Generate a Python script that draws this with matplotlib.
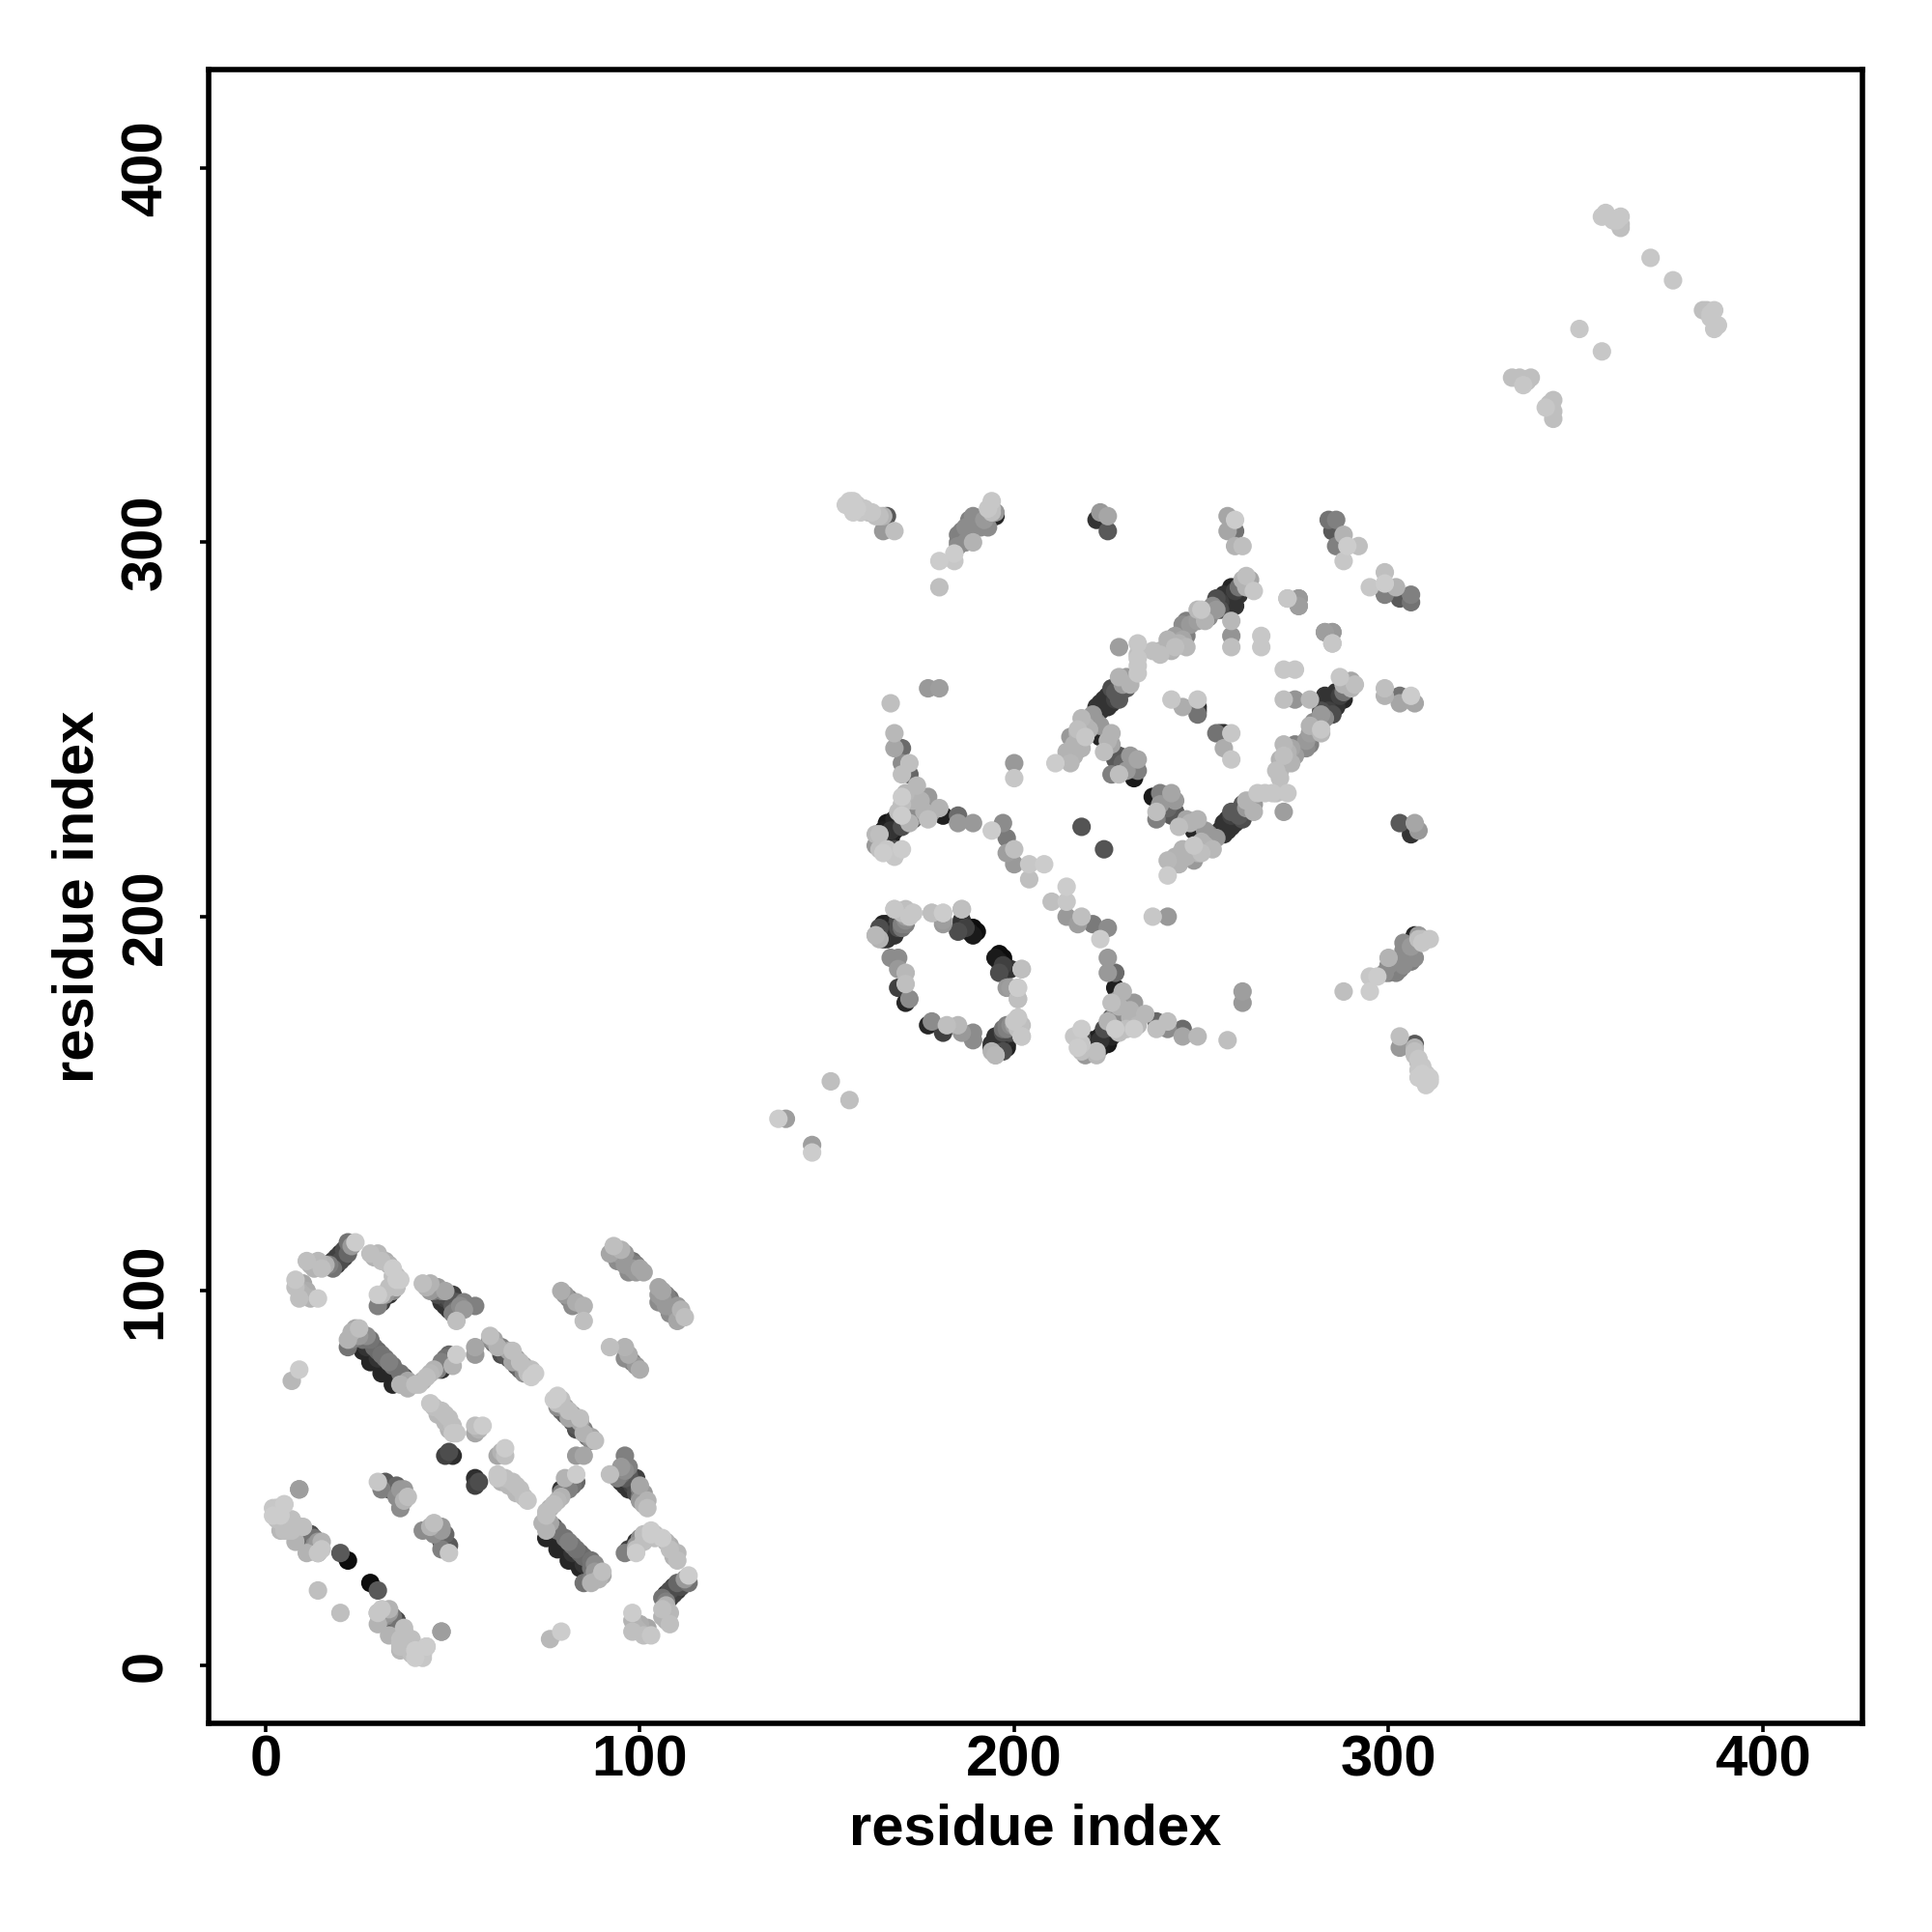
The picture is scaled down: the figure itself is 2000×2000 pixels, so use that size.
import numpy as np
import matplotlib
matplotlib.use("Agg")
import matplotlib.pyplot as plt

plt.rcParams['font.family'] = ['Liberation Sans', 'DejaVu Sans']

# Contacts (i < j); the map is symmetric so each is also shown at (j, i). Shade: 0 black, 1 white.
a_i = [14, 11, 9, 8, 8, 11, 14, 16, 18, 18, 20, 21, 22, 24, 12, 13, 17, 19, 19, 20, 21, 22, 23, 15, 10, 9, 10, 12]
a_j = [98, 100, 98, 101, 103, 108, 108, 107, 106, 108, 110, 111, 113, 113, 107, 106, 107, 107, 109, 108, 109, 110, 112, 106, 102, 100, 99, 98]
a_g = [.8, .68, .75, .75, .78, .75, .72, .7, .45, .25, .2, .3, .45, .8, .7, .7, .5, .2, .25, .3, .25, .4, .6, .75, .65, .7, .7, .7]

b_i = [28, 30, 32, 34, 36, 34, 33, 31, 30, 30, 29, 31, 33, 35, 35, 33, 32, 31, 35, 34]
b_j = [110, 110, 108, 106, 103, 100, 99, 97, 96, 99, 109, 108, 107, 103, 101, 101, 99, 99, 104, 104]
b_g = [.75, .72, .68, .8, .8, .55, .2, .25, .5, .8, .7, .75, .7, .8, .75, .75, .6, .75, .75, .75]

c_i = [42, 44, 46, 48, 50, 51, 53, 56, 51, 47, 49, 43, 45, 47, 48, 49, 50, 51, 52, 46, 44, 50, 53, 48]
c_j = [102, 102, 101, 100, 99, 97, 97, 96, 92, 97, 95, 101, 100, 100, 98, 98, 96, 95, 96, 99, 100, 94, 95, 96]
c_g = [.75, .7, .6, .65, .25, .35, .5, .5, .75, .2, .2, .7, .45, .5, .25, .3, .35, .45, .55, .3, .6, .5, .6, .2]

d_i = [79, 81, 83, 85, 85, 80, 82]
d_j = [100, 98, 97, 96, 92, 99, 96]
d_g = [.68, .5, .68, .7, .75, .6, .55]

e_i = [93, 92, 94, 96, 98, 100, 97, 93, 95, 97, 99, 94, 96, 98, 99, 95, 101]
e_j = [112, 110, 110, 110, 108, 106, 105, 110, 109, 108, 107, 108, 107, 106, 105, 111, 105]
e_g = [.75, .65, .6, .6, .45, .65, .55, .5, .55, .5, .5, .55, .6, .6, .6, .7, .65]

g_i = [22, 24, 26, 28, 29, 31, 33, 36, 38, 40, 26, 28, 31, 34, 38, 23, 25, 27, 27, 29, 30, 30, 32, 32, 34, 34, 35, 37, 37, 39, 22, 23, 25, 36]
g_j = [85, 90, 87, 87, 85, 83, 81, 78, 76, 75, 84, 81, 78, 75, 74, 87, 88, 85, 88, 83, 84, 82, 80, 82, 79, 80, 77, 77, 76, 75, 87, 89, 90, 75]
g_g = [.45, .65, .45, .45, .42, .45, .5, .45, .65, .75, .15, .15, .15, .15, .7, .5, .6, .2, .55, .15, .4, .2, .15, .45, .15, .45, .15, .3, .2, .6, .7, .7, .75, .7]

h_i = [43, 45, 47, 47, 49, 51, 7, 9, 44, 46, 48, 50, 41, 42]
h_j = [77, 79, 79, 81, 83, 83, 76, 79, 78, 79, 82, 80, 75, 76]
h_g = [.75, .7, .2, .5, .4, .8, .72, .8, .72, .5, .45, .7, .75, .7]

k_i = [56, 56, 60, 61, 62, 64, 66, 68, 70, 71, 66, 68, 72, 61, 63, 63, 65, 67, 69, 70, 65, 67, 71, 69, 60]
k_j = [85, 83, 88, 86, 85, 83, 81, 79, 78, 77, 84, 81, 78, 87, 85, 83, 82, 80, 80, 79, 84, 82, 79, 78, 87]
k_g = [.65, .6, .75, .4, .7, .35, .65, .4, .75, .8, .75, .75, .8, .65, .5, .3, .35, .35, .65, .7, .65, .65, .75, .55, .55]

m_i = [44, 47, 49, 50, 51, 56, 58, 56, 48, 50, 45, 46, 48, 50, 48, 49, 57, 49]
m_j = [70, 68, 66, 62, 62, 64, 64, 62, 56, 56, 69, 67, 67, 64, 65, 63, 63, 57]
m_g = [.78, .75, .75, .78, .78, .75, .8, .65, .25, .18, .75, .72, .75, .75, .72, .7, .7, .3]

n_i = [9, 3, 5, 4, 6, 9, 12, 9, 11, 14, 15, 14, 20, 22, 14, 4, 5, 7, 8, 10, 11, 11, 13, 13, 12, 15]
n_j = [47, 42, 43, 36, 39, 37, 35, 34, 32, 33, 31, 30, 30, 28, 20, 40, 38, 38, 36, 36, 35, 33, 34, 32, 33, 33]
n_g = [.62, .78, .8, .72, .72, .7, .3, .2, .2, .6, .78, .65, .35, .05, .75, .75, .72, .68, .6, .45, .3, .15, .45, .55, .25, .7]

o_i = [14, 14, 12, 11, 9, 10, 7, 5, 3, 3, 5, 9, 13, 2, 4, 2, 3, 6, 7, 8, 11]
o_j = [30, 32, 35, 32, 34, 37, 39, 36, 39, 42, 43, 47, 31, 40, 40, 42, 40, 36, 36, 33, 30]
o_g = [.78, .6, .3, .2, .2, .75, .75, .75, .75, .78, .8, .6, .6, .8, .8, .78, .75, .75, .75, .7, .7]

p_i = [30, 32, 34, 36, 38, 36, 31, 33, 35, 37, 37, 35]
p_j = [49, 49, 47, 47, 45, 42, 47, 47, 45, 44, 47, 48]
p_g = [.78, .35, .2, .6, .75, .55, .5, .3, .55, .7, .6, .4]

# Middle of the chain
q_i = [137, 139, 151]
q_j = [146, 146, 156]
q_g = [.8, .62, .75]

# Far end of the chain
r_i = [333, 335, 336, 338, 337, 351, 370, 357, 358, 360, 362, 362, 361, 362]
r_j = [344, 344, 342, 344, 343, 357, 376, 387, 388, 386, 387, 385, 386, 384]
r_g = [.75, .75, .78, .75, .75, .78, .78, .78, .78, .78, .78, .75, .78, .75]

# Second domain, top groups
s_i = [155, 157, 158, 160, 162, 164, 166, 165, 168, 156, 157, 158, 159, 161, 163, 165]
s_j = [310, 311, 309, 309, 308, 307, 307, 303, 303, 311, 308, 310, 308, 308, 307, 307]
s_g = [.8, .8, .8, .78, .78, .75, .35, .6, .75, .8, .8, .78, .78, .75, .75, .7]

t_i = [180, 180, 184, 184, 185, 185, 189, 189, 191, 193, 194, 195, 195, 194, 187, 186, 187, 188, 190, 192, 185, 193, 194, 188]
t_j = [288, 295, 295, 297, 300, 302, 300, 307, 304, 304, 311, 307, 308, 308, 300, 303, 304, 303, 305, 306, 299, 309, 309, 306]
t_g = [.75, .8, .78, .8, .5, .5, .7, .55, .55, .55, .78, .15, .6, .75, .55, .5, .55, .55, .55, .6, .55, .78, .75, .5]

u_i = [222, 225, 223, 225, 257, 259, 259, 257, 259, 261]
u_j = [306, 303, 308, 307, 307, 306, 303, 303, 299, 299]
u_g = [.2, .35, .6, .65, .65, .8, .45, .65, .7, .75]

v_i = [284, 286, 285, 288, 286, 289, 292, 288]
v_j = [306, 306, 303, 302, 299, 299, 299, 295]
v_g = [.45, .5, .35, .7, .5, .8, .75, .78]

w_i = [273, 276, 276, 283, 285, 285, 266, 266]
w_j = [285, 285, 283, 276, 276, 273, 272, 275]
w_g = [.78, .6, .62, .6, .6, .75, .78, .78]

# Long antiparallel strand
x_i = [228, 233, 233, 239, 239, 243, 243, 246, 246, 246, 249, 249, 250, 254, 255, 257, 258, 259, 260, 262, 263, 264, 258, 258, 258, 233, 233,
       251, 252, 253, 254, 256, 255, 256, 257, 258, 259, 260, 261, 262, 245, 241, 241, 242, 237, 244, 245, 247]
x_j = [272, 273, 269, 271, 270, 275, 272, 272, 279, 275, 279, 282, 282, 282, 284, 285, 288, 283, 286, 291, 290, 287, 279, 275, 272, 267, 270,
       279, 280, 283, 285, 286, 282, 283, 282, 286, 287, 288, 290, 288, 278, 272, 274, 271, 271, 273, 274, 278]
x_g = [.62, .78, .78, .7, .75, .62, .75, .72, .5, .5, .62, .72, .78, .6, .25, .2, .15, .2, .2, .75, .65, .78, .72, .58, .75, .78, .75,
       .7, .55, .55, .3, .2, .3, .2, .2, .2, .25, .45, .7, .7, .55, .65, .7, .7, .75, .7, .65, .6]

# Strand rising from the central helix
y_i = [233, 230, 228, 230, 226, 224, 226, 222, 228, 221, 218, 223, 217, 215, 219, 214, 218, 223, 226, 226, 227, 224, 233, 233, 228, 226, 232,
       227, 225, 223, 225, 223, 227, 229, 231, 222, 219, 220, 217, 216, 216, 228, 229, 231, 230, 225]
y_j = [265, 264, 264, 261, 261, 258, 257, 256, 258, 254, 253, 251, 250, 248, 248, 244, 245, 248, 249, 246, 242, 244, 242, 239, 238, 238, 237,
       260, 259, 255, 256, 257, 258, 262, 262, 252, 251, 250, 249, 246, 243, 243, 241, 243, 239, 247]
y_g = [.78, .6, .7, .35, .3, .2, .2, .2, .35, .6, .72, .6, .75, .6, .78, .7, .7, .15, .7, .65, .35, .75, .65, .5, .75, .5, .1,
       .35, .2, .2, .2, .2, .25, .6, .7, .55, .7, .7, .7, .7, .7, .35, .4, .6, .6, .7]

z_i = [211, 215, 200, 200, 242, 245, 249, 249, 249, 249, 177, 180]
z_j = [241, 241, 241, 237, 258, 256, 254, 255, 256, 258, 261, 261]
z_g = [.8, .72, .6, .78, .78, .68, .45, .2, .15, .78, .6, .62]

# Y-shaped contact group
ya_i = [167, 168, 168, 170, 170, 172, 170, 172, 174, 177, 170, 172, 180, 177, 177, 181, 185, 185, 189,
        170, 171, 173, 172, 174, 175, 176, 177, 175, 173, 171, 174, 176, 178]
ya_j = [257, 249, 245, 245, 241, 241, 238, 238, 235, 232, 232, 229, 229, 228, 226, 227, 227, 225, 225,
        230, 233, 231, 230, 229, 231, 230, 230, 228, 226, 228, 227, 228, 228]
ya_g = [.75, .72, .65, .42, .55, .75, .75, .4, .72, .6, .8, .4, .7, .2, .75, .12, .42, .6, .6,
        .75, .72, .7, .4, .55, .7, .4, .6, .3, .35, .3, .55, .7, .6]

yb_i = [166, 168, 166, 167, 170, 163, 163, 165, 165, 168, 170, 168, 172, 164, 167, 168, 169, 170, 165, 166, 164, 166, 169, 171, 172, 170]
yb_j = [225, 226, 222, 223, 227, 222, 219, 220, 217, 218, 218, 216, 227, 222, 221, 223, 224, 225, 223, 220, 218, 218, 228, 226, 225, 224]
yb_g = [.1, .15, .1, .2, .8, .72, .6, .12, .8, .3, .8, .78, .3, .75, .12, .1, .15, .2, .12, .15, .75, .78, .75, .25, .7, .3]

# Contacts close to the central diagonal
da_i = [197, 194, 198, 200, 198, 200, 204, 208, 204, 218]
da_j = [225, 223, 221, 218, 217, 214, 214, 214, 210, 224]
da_g = [.55, .8, .48, .75, .62, .6, .78, .8, .75, .33]

# Ring-like group
ra_i = [163, 165, 166, 168, 165, 168, 169, 171, 173, 178, 181, 181, 186, 186, 185, 190, 189,
        167, 167, 168, 169, 170, 171, 164, 164, 166, 187, 188, 188, 189]
ra_j = [195, 198, 197, 195, 195, 202, 199, 200, 201, 201, 201, 199, 202, 198, 196, 196, 195,
        196, 198, 197, 197, 198, 199, 197, 194, 195, 197, 197, 196, 197]
ra_g = [.72, .12, .15, .2, .2, .78, .3, .62, .78, .75, .8, .62, .72, .18, .3, .05, .1,
        .15, .15, .2, .3, .5, .55, .3, .7, .15, .25, .05, .1, .05]

rb_i = [167, 169, 169, 171, 171, 169, 171, 172, 189, 186, 186, 181, 181, 178, 173, 168, 171, 169, 166, 166, 166, 163, 167, 168, 170, 165, 172, 170, 171]
rb_j = [189, 189, 186, 185, 182, 181, 177, 178, 196, 199, 202, 201, 198, 201, 201, 202, 198, 197, 196, 198, 194, 195, 195, 198, 197, 194, 200, 201, 202]
rb_g = [.55, .55, .6, .72, .75, .25, .15, .55, .05, .2, .75, .8, .6, .75, .78, .78, .5, .1, .15, .1, .2, .7, .15, .1, .45, .2, .78, .75, .75]

tick_values = [0, 100, 200, 300, 400]

i_all = np.array(a_i + b_i + c_i + d_i + e_i + g_i + h_i + k_i + m_i + n_i + o_i + p_i + q_i + r_i + s_i + t_i
                 + u_i + v_i + w_i + x_i + y_i + z_i + ya_i + yb_i + da_i + ra_i + rb_i)
j_all = np.array(a_j + b_j + c_j + d_j + e_j + g_j + h_j + k_j + m_j + n_j + o_j + p_j + q_j + r_j + s_j + t_j
                 + u_j + v_j + w_j + x_j + y_j + z_j + ya_j + yb_j + da_j + ra_j + rb_j)
g_all = np.array(a_g + b_g + c_g + d_g + e_g + g_g + h_g + k_g + m_g + n_g + o_g + p_g + q_g + r_g + s_g + t_g
                 + u_g + v_g + w_g + x_g + y_g + z_g + ya_g + yb_g + da_g + ra_g + rb_g)

xs = np.concatenate([i_all, j_all])
ys = np.concatenate([j_all, i_all])
gs = np.concatenate([g_all, g_all])
order = np.argsort(gs, kind='stable')

fig = plt.figure(figsize=(20, 20), dpi=100, facecolor='white')
ax = fig.add_axes([216 / 2000, 1 - 1784 / 2000, 1712 / 2000, 1712 / 2000])
ax.scatter(xs[order], ys[order], s=190, c=[str(v) for v in gs[order]], linewidths=0, clip_on=True)

ax.set_xlim(-15.2, 426.6)
ax.set_ylim(-15.5, 426.3)
ax.set_xticks(tick_values)
ax.set_yticks(tick_values)
ax.tick_params(axis='both', length=6.5, width=2.6, color='black', labelsize=43)
ax.tick_params(axis='x', pad=2)
ax.tick_params(axis='y', pad=20)
for lab in ax.get_xticklabels():
    lab.set_fontweight('bold')
for lab in ax.get_yticklabels():
    lab.set_fontweight('bold')
    lab.set_rotation(90)
    lab.set_va('center')
for sp in ax.spines.values():
    sp.set_linewidth(4.0)

ax.set_xlabel('residue index', fontsize=43, fontweight='bold', va='center')
ax.set_ylabel('residue index', fontsize=43, fontweight='bold', va='center')
ax.xaxis.set_label_coords(0.5, -0.0645)
ax.yaxis.set_label_coords(-0.079, 0.5)

fig.savefig('out.png', dpi=100, facecolor='white')
